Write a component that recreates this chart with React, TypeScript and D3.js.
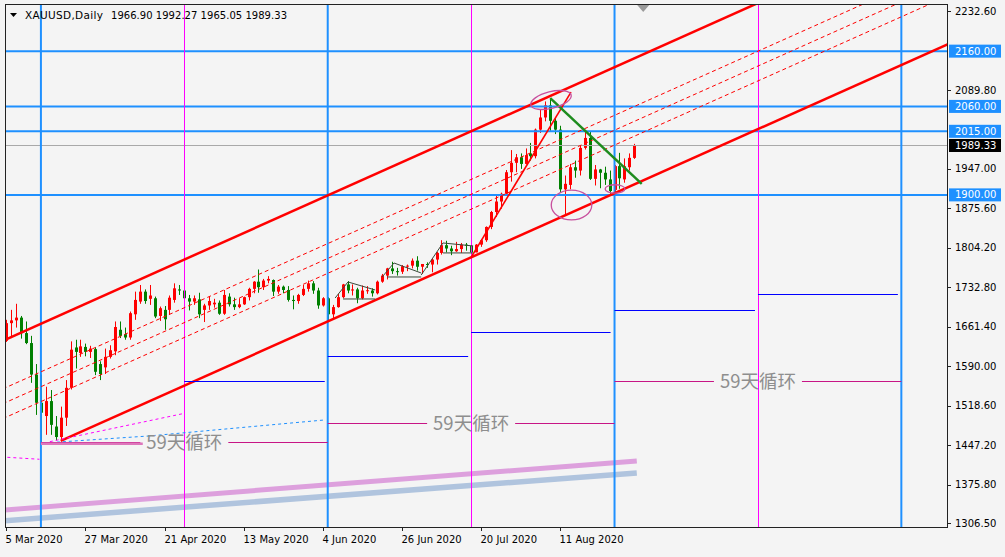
import React from "react";
import * as d3 from "d3";

// ---------- DATA ----------
const dates = (
  "2020-03-05 2020-03-06 2020-03-09 2020-03-10 2020-03-11 2020-03-12 2020-03-13 2020-03-16 2020-03-17 2020-03-18 " +
  "2020-03-19 2020-03-20 2020-03-23 2020-03-24 2020-03-25 2020-03-26 2020-03-27 2020-03-30 2020-03-31 2020-04-01 " +
  "2020-04-02 2020-04-03 2020-04-06 2020-04-07 2020-04-08 2020-04-09 2020-04-13 2020-04-14 2020-04-15 2020-04-16 " +
  "2020-04-17 2020-04-20 2020-04-21 2020-04-22 2020-04-23 2020-04-24 2020-04-27 2020-04-28 2020-04-29 2020-04-30 " +
  "2020-05-01 2020-05-04 2020-05-05 2020-05-06 2020-05-07 2020-05-08 2020-05-11 2020-05-12 2020-05-13 2020-05-14 " +
  "2020-05-15 2020-05-18 2020-05-19 2020-05-20 2020-05-21 2020-05-22 2020-05-25 2020-05-26 2020-05-27 2020-05-28 " +
  "2020-05-29 2020-06-01 2020-06-02 2020-06-03 2020-06-04 2020-06-05 2020-06-08 2020-06-09 2020-06-10 2020-06-11 " +
  "2020-06-12 2020-06-15 2020-06-16 2020-06-17 2020-06-18 2020-06-19 2020-06-22 2020-06-23 2020-06-24 2020-06-25 " +
  "2020-06-26 2020-06-29 2020-06-30 2020-07-01 2020-07-02 2020-07-03 2020-07-06 2020-07-07 2020-07-08 2020-07-09 " +
  "2020-07-10 2020-07-13 2020-07-14 2020-07-15 2020-07-16 2020-07-17 2020-07-20 2020-07-21 2020-07-22 2020-07-23 " +
  "2020-07-24 2020-07-27 2020-07-28 2020-07-29 2020-07-30 2020-07-31 2020-08-03 2020-08-04 2020-08-05 2020-08-06 " +
  "2020-08-07 2020-08-10 2020-08-11 2020-08-12 2020-08-13 2020-08-14 2020-08-17 2020-08-18 2020-08-19 2020-08-20 " +
  "2020-08-21 2020-08-24 2020-08-25 2020-08-26 2020-08-27 2020-08-28 2020-08-31 2020-09-01"
).split(" ");

const opens = [
  1636, 1668, 1673, 1678, 1650, 1632, 1575, 1524, 1500, 1527, 1481, 1462, 1497, 1551, 1624, 1614, 1625, 1616, 1621, 1594,
  1588, 1607, 1617, 1656, 1648, 1642, 1684, 1707, 1725, 1712, 1713, 1681, 1692, 1692, 1710, 1729, 1727, 1713, 1707, 1711,
  1692, 1700, 1702, 1705, 1685, 1716, 1702, 1697, 1702, 1715, 1730, 1743, 1733, 1745, 1746, 1725, 1734, 1728, 1710, 1708,
  1719, 1730, 1740, 1727, 1700, 1713, 1684, 1697, 1715, 1738, 1727, 1729, 1713, 1727, 1727, 1722, 1743, 1754, 1767, 1762,
  1761, 1771, 1772, 1781, 1770, 1775, 1774, 1783, 1795, 1809, 1803, 1798, 1802, 1810, 1808, 1796, 1810, 1818, 1842, 1869,
  1888, 1902, 1941, 1958, 1968, 1956, 1975, 1970, 2018, 2040, 2062, 2034, 2018, 1910, 1918, 1950, 1944, 1985, 2003, 1929,
  1946, 1940, 1928, 1909, 1952, 1928, 1950, 1966.9,
];
const highs = [
  1674, 1692, 1703, 1681, 1671, 1645, 1594, 1575, 1553, 1547, 1500, 1517, 1565, 1635, 1638, 1638, 1631, 1627, 1624, 1599,
  1622, 1628, 1671, 1671, 1660, 1689, 1725, 1737, 1729, 1737, 1716, 1698, 1699, 1718, 1740, 1737, 1728, 1719, 1718, 1723,
  1703, 1716, 1712, 1709, 1728, 1722, 1714, 1713, 1716, 1732, 1744, 1765, 1748, 1753, 1747, 1737, 1736, 1735, 1718, 1721,
  1737, 1745, 1744, 1732, 1715, 1715, 1701, 1721, 1739, 1744, 1738, 1732, 1736, 1735, 1731, 1745, 1757, 1768, 1779, 1768,
  1773, 1774, 1785, 1789, 1775, 1778, 1786, 1797, 1818, 1817, 1808, 1815, 1813, 1813, 1810, 1811, 1820, 1843, 1871, 1898,
  1904, 1945, 1981, 1974, 1975, 1984, 1994, 2020, 2055, 2069, 2075, 2040, 2025, 1935, 1956, 1962, 1989, 2015, 2014, 1954,
  1947, 1951, 1944, 1954, 1976, 1966, 1975, 1992.27,
];
const lows = [
  1634, 1641, 1660, 1640, 1630, 1560, 1502, 1451, 1466, 1466, 1456, 1455, 1482, 1548, 1586, 1607, 1608, 1605, 1574, 1565,
  1576, 1604, 1610, 1641, 1638, 1638, 1674, 1703, 1703, 1701, 1677, 1672, 1656, 1683, 1705, 1719, 1703, 1691, 1701, 1677,
  1670, 1692, 1696, 1683, 1683, 1698, 1692, 1695, 1701, 1709, 1722, 1723, 1728, 1740, 1717, 1721, 1722, 1707, 1693, 1703,
  1717, 1725, 1721, 1694, 1698, 1671, 1677, 1696, 1713, 1722, 1718, 1704, 1711, 1721, 1716, 1720, 1741, 1747, 1757, 1754,
  1757, 1762, 1767, 1763, 1757, 1768, 1760, 1774, 1792, 1796, 1791, 1797, 1795, 1799, 1794, 1796, 1806, 1815, 1838, 1860,
  1875, 1898, 1924, 1941, 1947, 1955, 1962, 1966, 2012, 2033, 2016, 2010, 1905, 1863, 1910, 1931, 1935, 1982, 1927, 1917,
  1912, 1918, 1902, 1900, 1911, 1922, 1944, 1965.05,
];
const closes = [
  1668, 1673, 1678, 1650, 1632, 1575, 1524, 1506, 1527, 1484, 1462, 1497, 1551, 1620, 1616, 1626, 1616, 1622, 1580, 1576,
  1607, 1619, 1661, 1645, 1642, 1686, 1710, 1725, 1708, 1718, 1680, 1695, 1675, 1714, 1731, 1727, 1713, 1707, 1713, 1684,
  1700, 1708, 1705, 1685, 1719, 1702, 1697, 1702, 1715, 1730, 1743, 1733, 1745, 1748, 1725, 1734, 1728, 1710, 1708, 1719,
  1730, 1740, 1727, 1700, 1713, 1684, 1697, 1715, 1738, 1727, 1729, 1713, 1727, 1727.5, 1722, 1743, 1754, 1767, 1762, 1761,
  1771, 1772, 1781, 1770, 1775, 1774, 1783, 1795, 1809, 1803, 1798, 1802, 1810, 1808, 1796, 1810, 1818, 1842, 1869, 1888,
  1902, 1941, 1958, 1968, 1956, 1972, 1970, 2018, 2040, 2062, 2034, 2018, 1910, 1920, 1950, 1944, 1985, 2003, 1929, 1946,
  1940, 1928, 1907, 1952, 1930, 1952, 1967, 1989.33,
];

const headerSymbol = "XAUUSD,Daily";
const headerValues = "1966.90 1992.27 1965.05 1989.33";

const priceTicks = [2232.6, 2089.8, 1947.0, 1875.6, 1804.2, 1732.8, 1661.4, 1590.0, 1518.6, 1447.2, 1375.8, 1306.5];
const dateTicks = ["2020-03-05", "2020-03-27", "2020-04-21", "2020-05-13", "2020-06-04", "2020-06-26", "2020-07-20", "2020-08-11"];
const dateTickLabels = ["5 Mar 2020", "27 Mar 2020", "21 Apr 2020", "13 May 2020", "4 Jun 2020", "26 Jun 2020", "20 Jul 2020", "11 Aug 2020"];

// horizontal levels (blue) and bid line
const levels = [2160, 2060, 2015, 1900];
const bid = 1989.33;

// cycle verticals (bar index)
const blueVerticals = [7, 65, 123, 181];
const magentaVerticals = [36, 94, 152];

// equidistant channel: lower through [i,p], upper through [i,p], same slope
const channelSlope = 4.0; // $ per bar
const lowerAnchor = [11, 1455];
const upperAnchor = [109, 2075];
const fibLevels = [0.382, 0.5, 0.618];

// steep rally trendline & descending green line
const steepLine = [[94, 1787], [114.2, 2086]];
const greenLine = [[110, 2075], [128.5, 1920]];

// half-cycle blue segments [startIdx, endIdx, price]
const halfSegments = [
  [36, 64.4, 1563.4],
  [65, 93.4, 1608.6],
  [94, 122.2, 1652.0],
  [123, 151.4, 1691.8],
  [152, 180.3, 1720.7],
];

// 59-day cycle labelled lines [startIdx, endIdx, price]
const cycleLines = [
  [7, 65, 1453],
  [65, 123, 1487.5],
  [123, 181, 1563.4],
];
const cycleText = "59天循环";
const pinkCycleStart = [7, 27.6, 1450];

// dashed helper lines (bar index, price)
const blueDashed = [[7.8, 1451.3], [29, 1464], [64.4, 1492.9]];
const magentaDashed = [[8.8, 1453.6], [36.1, 1505.0]];
const magentaDashedLeft = [[-1, 1426], [6.7, 1421.8]];

// thick pastel trendlines at bottom
const plumLine = [[-2, 1329], [127.5, 1418.8]];
const steelLine = [[-2, 1309.5], [127.5, 1397]];

// small consolidation pattern lines
const patternLines = [
  [[66.5, 1713.5], [69.1, 1742.5], [74.6, 1728]],
  [[68.1, 1711.7], [74.6, 1711.7]],
  [[76, 1751.5], [78.4, 1776.8], [83.9, 1758.7]],
  [[77, 1751.5], [83.9, 1751.5]],
  [[83.9, 1755], [88.3, 1813], [94.4, 1807.6]],
  [[88.3, 1795], [94.4, 1795]],
];

// ellipses [centerIdx, centerPrice, radiusBars, radius$, rotationDeg]
const ellipses = [
  [110.15, 2071.6, 4.2, 15, -14],
  [114.3, 1881.7, 4.1, 27, 0],
  [123.1, 1910.7, 2.0, 7.6, 0],
];

// ---------- CHART ----------
export default function App() {
  const W = 1005, H = 557;
  const L = 5, R = 947, T = 4, B = 527;
  const x = d3.scaleLinear().domain([0, 180]).range([6.3, 6.3 + 180 * 4.945]);
  const y = d3.scaleLinear().domain([1306.5, 2232.6]).range([523, 11]);
  const line = d3.line<number[]>().x((d) => x(d[0])).y((d) => y(d[1]));
  const crisp = (v: number) => Math.round(v) + 0.5;

  const lowerAt = (i: number) => lowerAnchor[1] + channelSlope * (i - lowerAnchor[0]);
  const upperAt = (i: number) => upperAnchor[1] + channelSlope * (i - upperAnchor[0]);
  const iEnd = 200;
  const fmt = d3.format(".2f");
  const font = "'DejaVu Sans', Verdana, sans-serif";

  const candles = dates.map((d, i) => ({ i, o: opens[i], h: highs[i], l: lows[i], c: closes[i] }));

  const gapHalf = 44;

  return (
    <svg width={W} height={H} style={{ position: "absolute", left: 0, top: 0 }} xmlns="http://www.w3.org/2000/svg">
      <defs>
        <clipPath id="plot">
          <rect x={L} y={T} width={R - L} height={B - T} />
        </clipPath>
      </defs>
      <rect x={0} y={0} width={W} height={H} fill="#F4F4F4" />

      <g clipPath="url(#plot)">
        {/* candles */}
        {candles.map((k) => {
          const up = k.c >= k.o;
          const col = up ? "#FF0000" : "#008000";
          const cx = Math.round(x(k.i)) + 0.5;
          const top = y(Math.max(k.o, k.c));
          const bot = y(Math.min(k.o, k.c));
          return (
            <g key={k.i}>
              <line x1={cx} x2={cx} y1={y(k.h)} y2={y(k.l)} stroke={col} strokeWidth={1} />
              <rect x={cx - 1.5} y={top} width={3} height={Math.max(1, bot - top)} fill={col} />
            </g>
          );
        })}

        {/* bottom thick pastel lines */}
        <path d={line(plumLine) || ""} stroke="#DDA0DD" strokeWidth={5} fill="none" />
        <path d={line(steelLine) || ""} stroke="#B0C4DE" strokeWidth={5.5} fill="none" />

        {/* horizontal levels */}
        {levels.map((p) => (
          <line key={p} x1={L} x2={R} y1={y(p)} y2={y(p)} stroke="#1E90FF" strokeWidth={2} />
        ))}
        <line x1={L} x2={R} y1={crisp(y(bid))} y2={crisp(y(bid))} stroke="#A9A9A9" strokeWidth={1} />

        {/* verticals */}
        {blueVerticals.map((i) => (
          <line key={"bv" + i} x1={x(i)} x2={x(i)} y1={T} y2={B} stroke="#1E90FF" strokeWidth={2} />
        ))}
        {magentaVerticals.map((i) => (
          <line key={"mv" + i} x1={crisp(x(i))} x2={crisp(x(i))} y1={T} y2={B} stroke="#FF00FF" strokeWidth={1} />
        ))}

        {/* fib dashed lines */}
        {fibLevels.map((f) => {
          const w = upperAt(0) - lowerAt(0);
          const pts = [[-2, upperAt(-2) - f * w], [iEnd, upperAt(iEnd) - f * w]];
          return <path key={f} d={line(pts) || ""} stroke="#FF0000" strokeWidth={1} strokeDasharray="4,3" fill="none" />;
        })}

        {/* channel */}
        <path d={line([[-2, upperAt(-2)], [iEnd, upperAt(iEnd)]]) || ""} stroke="#FF0000" strokeWidth={2.5} fill="none" />
        <path d={line([[lowerAnchor[0], lowerAt(lowerAnchor[0])], [iEnd, lowerAt(iEnd)]]) || ""} stroke="#FF0000" strokeWidth={2.5} fill="none" />

        {/* steep trendline */}
        <path d={line(steepLine) || ""} stroke="#FF0000" strokeWidth={1.6} fill="none" />

        {/* helper dashed lines */}
        <path d={line(blueDashed) || ""} stroke="#1E90FF" strokeWidth={1} strokeDasharray="3,3" fill="none" />
        <path d={line(magentaDashed) || ""} stroke="#FF00FF" strokeWidth={1} strokeDasharray="3,3" fill="none" />
        <path d={line(magentaDashedLeft) || ""} stroke="#FF00FF" strokeWidth={1} strokeDasharray="3,3" fill="none" />

        {/* half-cycle segments */}
        {halfSegments.map((s, k) => (
          <line key={"hs" + k} x1={x(s[0])} x2={x(s[1])} y1={crisp(y(s[2]))} y2={crisp(y(s[2]))} stroke="#0000FF" strokeWidth={1} />
        ))}

        {/* cycle lines with text */}
        {cycleLines.map((c, k) => {
          const x1 = x(c[0]), x2 = x(c[1]);
          const mid = (x1 + x2) / 2;
          const yy = crisp(y(c[2]));
          return (
            <g key={"cl" + k}>
              <line x1={x1} x2={mid - gapHalf} y1={yy} y2={yy} stroke="#C71585" strokeWidth={1} />
              <line x1={mid + gapHalf} x2={x2} y1={yy} y2={yy} stroke="#C71585" strokeWidth={1} />
              <text x={mid} y={yy} dy="0.36em" textAnchor="middle" fontSize={18.5}
                fontFamily="'Noto Sans CJK SC', sans-serif" fill="#8E8E8E">{cycleText}</text>
            </g>
          );
        })}
        <line x1={x(pinkCycleStart[0])} x2={x(pinkCycleStart[1])} y1={y(pinkCycleStart[2])} y2={y(pinkCycleStart[2])}
          stroke="#DD77BB" strokeWidth={2.5} />

        {/* consolidation pattern */}
        {patternLines.map((pl, k) => (
          <path key={"pl" + k} d={line(pl) || ""} stroke="#3A4A3A" strokeWidth={1} fill="none" />
        ))}

        {/* green descending line */}
        <path d={line(greenLine) || ""} stroke="#1E8C1E" strokeWidth={2.5} fill="none" />

        {/* ellipses */}
        {ellipses.map((e, k) => {
          const cx = x(e[0]), cy = y(e[1]);
          const rx = x(e[0] + e[2]) - cx;
          const ry = cy - y(e[1] + e[3]);
          return (
            <ellipse key={"el" + k} cx={cx} cy={cy} rx={rx} ry={ry} transform={`rotate(${e[4]} ${cx} ${cy})`}
              fill="none" stroke="#C8509E" strokeWidth={1.3} />
          );
        })}

        {/* chart shift marker */}
        <path d={`M${x(128.8) - 6},${T + 1} L${x(128.8) + 6},${T + 1} L${x(128.8)},${T + 8} Z`} fill="#9A9A9A" />
      </g>

      {/* frame */}
      <rect x={L + 0.5} y={T + 0.5} width={R - L} height={B - T} fill="none" stroke="#222" strokeWidth={1} />

      {/* header */}
      <path d="M10,13 L17,13 L13.5,17 Z" fill="#000" />
      <text x={25} y={19} fontSize={10.5} fontFamily={font} fill="#000" textLength={78} lengthAdjust="spacing">{headerSymbol}</text>
      <text x={111} y={19} fontSize={10} fontFamily={font} fill="#000" textLength={176} lengthAdjust="spacing">{headerValues}</text>

      {/* price axis */}
      {priceTicks.map((p) => (
        <g key={"pt" + p}>
          <line x1={R} x2={R + 4} y1={crisp(y(p))} y2={crisp(y(p))} stroke="#222" />
          <text x={955} y={y(p)} dy="0.36em" fontSize={10} fontFamily={font} fill="#000">{fmt(p)}</text>
        </g>
      ))}
      {levels.map((p) => (
        <g key={"lv" + p}>
          <rect x={R + 2} y={y(p) - 6.5} width={52} height={13} fill="#1E90FF" />
          <text x={955} y={y(p)} dy="0.36em" fontSize={10} fontFamily={font} fill="#FFFFFF">{fmt(p)}</text>
        </g>
      ))}
      <rect x={R + 2} y={y(bid) - 6.5} width={52} height={13} fill="#000" />
      <text x={955} y={y(bid)} dy="0.36em" fontSize={10} fontFamily={font} fill="#FFFFFF">{fmt(bid)}</text>

      {/* date axis */}
      {dateTicks.map((d, k) => {
        const xi = crisp(x(dates.indexOf(d)));
        return (
          <g key={"dt" + d}>
            <line x1={xi} x2={xi} y1={B} y2={B + 4} stroke="#222" />
            <text x={xi - 1} y={543} fontSize={10} fontFamily={font} fill="#000">{dateTickLabels[k]}</text>
          </g>
        );
      })}
    </svg>
  );
}
